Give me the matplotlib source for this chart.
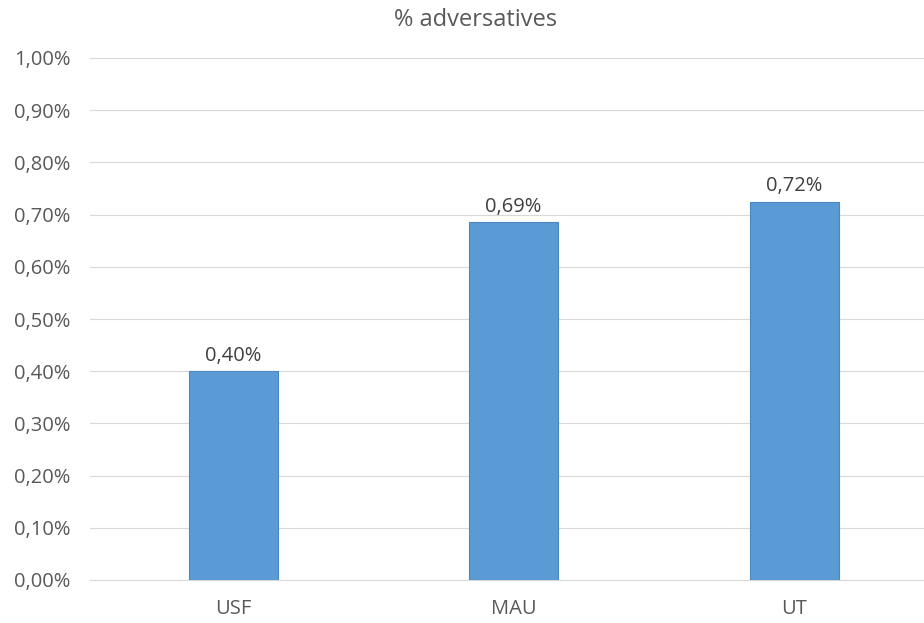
import numpy as np
import matplotlib.pyplot as plt

categories = ["USF", "MAU", "UT"]
values = [0.0040, 0.00685, 0.00725]
value_labels = ["0,40%", "0,69%", "0,72%"]
yticks = [0.0, 0.001, 0.002, 0.003, 0.004, 0.005, 0.006, 0.007, 0.008, 0.009, 0.010]

plt.rcParams['font.family'] = ['Open Sans', 'DejaVu Sans']
txt = '#595959'

fig = plt.figure(figsize=(9.24, 6.23), dpi=100)
ax = fig.add_axes([90/924, 43/623, 834/924, 522/623])

x = np.arange(len(categories))
ax.bar(x, values, width=0.317, color='#5B9BD5', edgecolor='#4A86C0', linewidth=0.8, zorder=3)

for xi, v, lab in zip(x, values, value_labels):
    ax.annotate(lab, (xi, v), xytext=(0, 4), textcoords='offset points',
                ha='center', va='bottom', fontsize=14.5, color='#404040')

ax.set_xlim(-0.51, 2.463)
ax.set_ylim(0, 0.010)
ax.set_yticks(yticks)
ax.set_yticklabels([("%.2f%%" % (t * 100)).replace('.', ',') for t in yticks])
ax.set_xticks(x)
ax.set_xticklabels(categories)
ax.tick_params(length=0, labelsize=14.5, colors=txt)
ax.tick_params(axis='x', pad=14)
ax.tick_params(axis='y', pad=14)
ax.grid(axis='y', color='#D9D9D9', linewidth=0.8, zorder=0)
for s in ['top', 'right', 'left']:
    ax.spines[s].set_visible(False)
ax.spines['bottom'].set_color('#D9D9D9')

fig.text(476/924, 1 - 20/623, "% adversatives", ha='center', va='center', fontsize=17, color=txt)

fig.savefig('out.png', dpi=100)
